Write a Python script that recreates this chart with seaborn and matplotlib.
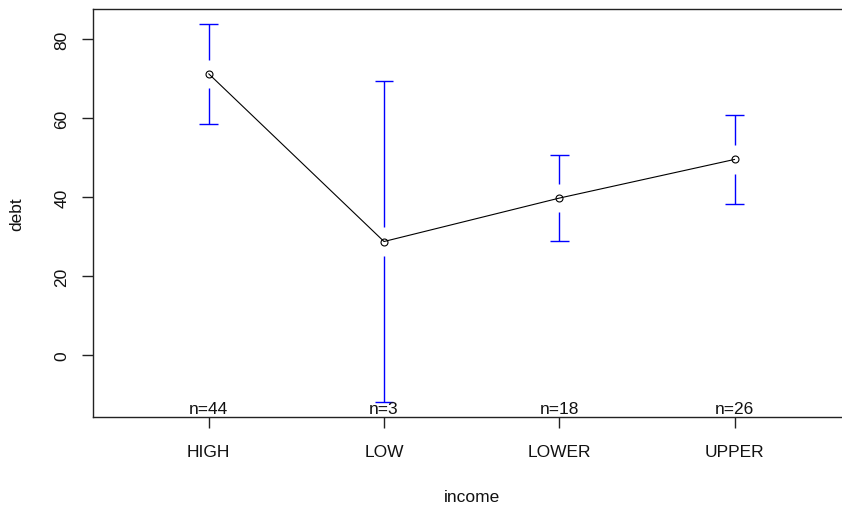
import matplotlib
matplotlib.use("Agg")
import matplotlib.pyplot as plt
import matplotlib.transforms as mtransforms
import numpy as np
import pandas as pd
import seaborn as sns

# Group means of debt by income class, with confidence half-widths and sizes
income = ["HIGH", "LOW", "LOWER", "UPPER"]
debt_mean = [71.3, 28.8, 39.8, 49.6]
ci_half = [12.7, 40.7, 10.95, 11.3]
n_obs = [44, 3, 18, 26]

sns.set_theme(style="white")
plt.rcParams["font.family"] = ["Liberation Sans", "DejaVu Sans"]

df = pd.DataFrame({"pos": np.arange(1, len(income) + 1), "debt": debt_mean})

fig = plt.figure(figsize=(8.42, 5.10), dpi=100)
# plot region runs slightly past the right edge of the figure
ax = fig.add_axes([93 / 842, 1 - 418.3 / 510, 757.3 / 842, (418.3 - 9.5) / 510])

lo = [m - h for m, h in zip(debt_mean, ci_half)]
hi = [m + h for m, h in zip(debt_mean, ci_half)]
span = max(hi) - min(lo)
ax.set_xlim(0.5 - 0.16, len(income) + 0.5 + 0.16)
ax.set_ylim(min(lo) - 0.04 * span, max(hi) + 0.04 * span)

# error bars with a gap around each mean
gap = 3.6
cap = 0.054
for x, m, l, h in zip(df["pos"], debt_mean, lo, hi):
    ax.vlines(x, m + gap, h, color="blue", lw=1.0, zorder=2)
    ax.vlines(x, l, m - gap, color="blue", lw=1.0, zorder=2)
    ax.hlines([l, h], x - cap, x + cap, color="blue", lw=1.0, zorder=2)

sns.lineplot(data=df, x="pos", y="debt", ax=ax, color="black", lw=0.8,
             marker="o", markersize=5, markerfacecolor="none",
             markeredgecolor="black", markeredgewidth=0.8, zorder=3)

# sample sizes along the bottom of the plot region
trans = mtransforms.blended_transform_factory(ax.transData, ax.transAxes)
for x, n in zip(df["pos"], n_obs):
    ax.text(x, 0.0105, f"n={n}", transform=trans, ha="center", va="baseline",
            fontsize=12.5, color="#111111")

ax.set_xticks(df["pos"])
ax.set_xticklabels(income)
ax.set_yticks([0, 20, 40, 60, 80])
ax.tick_params(axis="both", direction="out", length=8, width=1.0,
               color="#222222", labelsize=12.5, labelcolor="#111111",
               left=True, bottom=True)
ax.tick_params(axis="x", pad=11)
ax.tick_params(axis="y", pad=9)
for lab in ax.get_yticklabels():
    lab.set_rotation(90)
    lab.set_va("center")

for s in ax.spines.values():
    s.set_color("#222222")
    s.set_linewidth(1.0)
ax.spines["right"].set_visible(False)

ax.set_xlabel("income", fontsize=12.5, color="#111111", labelpad=22)
ax.set_ylabel("debt", fontsize=12.5, color="#111111", labelpad=22)
ax.grid(False)

fig.savefig("out.png", dpi=100)
